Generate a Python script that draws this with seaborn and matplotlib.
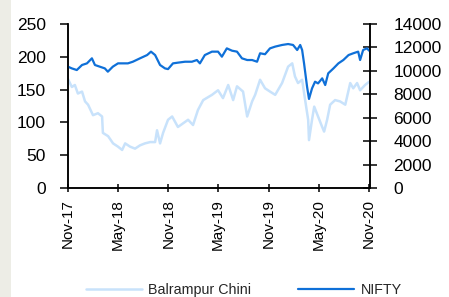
import pandas as pd
import matplotlib
matplotlib.use("Agg")
import matplotlib.pyplot as plt
import matplotlib.dates as mdates
from matplotlib import font_manager
import seaborn as sns

# Balrampur Chini share price (left axis)
balrampur_dates = [
    "2017-11-01", "2017-11-15", "2017-11-26", "2017-12-07", "2017-12-22",
    "2018-01-02", "2018-01-13", "2018-01-31", "2018-02-18", "2018-03-05",
    "2018-03-08", "2018-03-27", "2018-04-14", "2018-05-02", "2018-05-17",
    "2018-05-28", "2018-06-15", "2018-07-03", "2018-07-21", "2018-08-08",
    "2018-08-27", "2018-09-14", "2018-09-21", "2018-10-02", "2018-10-13",
    "2018-10-31", "2018-11-15", "2018-12-06", "2019-01-12", "2019-01-30",
    "2019-02-17", "2019-03-08", "2019-04-09", "2019-05-01", "2019-05-19",
    "2019-06-07", "2019-06-25", "2019-07-09", "2019-07-31", "2019-08-15",
    "2019-09-02", "2019-09-13", "2019-10-01", "2019-10-19", "2019-11-06",
    "2019-11-25", "2019-12-20", "2020-01-11", "2020-01-26", "2020-02-05",
    "2020-02-16", "2020-03-02", "2020-03-13", "2020-03-24", "2020-03-27",
    "2020-04-07", "2020-04-15", "2020-04-29", "2020-05-14", "2020-05-21",
    "2020-06-01", "2020-06-12", "2020-06-30", "2020-07-18", "2020-08-06",
    "2020-08-24", "2020-09-04", "2020-09-18", "2020-09-29", "2020-10-17",
    "2020-11-01",
]
balrampur_values = [
    166, 154, 157, 144, 147,
    132, 127, 111, 114, 109,
    84, 79, 68, 63, 58,
    68, 63, 60, 65, 68,
    70, 70, 88, 68, 84,
    104, 109, 93, 104, 96,
    119, 134, 142, 149, 137,
    157, 134, 155, 147, 109,
    132, 142, 165, 152, 147,
    142, 160, 185, 190, 170,
    160, 165, 134, 104, 73,
    104, 124, 109, 93, 86,
    104, 127, 134, 132, 127,
    160, 152, 160, 149, 157,
    162,
]

# NIFTY index (right axis)
nifty_dates = [
    "2017-11-01", "2017-11-15", "2017-12-03", "2017-12-22", "2018-01-09",
    "2018-01-27", "2018-02-07", "2018-02-25", "2018-03-15", "2018-03-26",
    "2018-04-13", "2018-05-02", "2018-05-20", "2018-06-07", "2018-06-25",
    "2018-07-21", "2018-08-16", "2018-08-30", "2018-09-14", "2018-10-02",
    "2018-10-20", "2018-10-31", "2018-11-18", "2018-12-06", "2019-01-01",
    "2019-01-26", "2019-02-13", "2019-02-24", "2019-03-14", "2019-04-09",
    "2019-05-01", "2019-05-15", "2019-06-02", "2019-06-21", "2019-07-09",
    "2019-07-27", "2019-08-15", "2019-09-02", "2019-09-20", "2019-10-01",
    "2019-10-19", "2019-11-06", "2019-11-25", "2019-12-20", "2020-01-11",
    "2020-01-29", "2020-02-13", "2020-02-24", "2020-03-02", "2020-03-09",
    "2020-03-20", "2020-03-27", "2020-04-07", "2020-04-18", "2020-04-29",
    "2020-05-14", "2020-05-25", "2020-06-05", "2020-06-24", "2020-07-12",
    "2020-07-30", "2020-08-18", "2020-09-04", "2020-09-22", "2020-09-29",
    "2020-10-10", "2020-10-24", "2020-11-01",
]
nifty_values = [
    10355, 10210, 10070, 10500, 10640,
    11070, 10500, 10355, 10210, 9930,
    10355, 10640, 10640, 10640, 10780,
    11070, 11350, 11640, 11350, 10500,
    10210, 10150, 10640, 10700, 10780,
    10780, 10925, 10640, 11350, 11640,
    11640, 11210, 11920, 11720, 11640,
    11070, 10925, 10925, 10780, 11500,
    11420, 11920, 12070, 12210, 12290,
    12210, 11780, 12210, 11780, 10640,
    8640, 7600, 8500, 9075, 8930,
    9360, 8790, 9790, 10210, 10640,
    10925, 11350, 11500, 11640, 10925,
    11780, 11920, 11720,
]

bal = pd.DataFrame({"date": pd.to_datetime(balrampur_dates), "value": balrampur_values})
nif = pd.DataFrame({"date": pd.to_datetime(nifty_dates), "value": nifty_values})

sns.set_style("white")
plt.rcParams["font.family"] = ["Liberation Sans", "DejaVu Sans"]

# condensed face for the rotated date labels, if the system has one
installed = {f.name for f in font_manager.fontManager.ttflist}
narrow = None
for name in ("Liberation Sans Narrow", "DejaVu Sans Condensed"):
    if name in installed:
        narrow = name
        break

light_blue = "#c8e2fb"
dark_blue = "#0f70d8"

fig = plt.figure(figsize=(4.49, 2.97), dpi=100)
fig.patches.append(plt.Rectangle((0, 0), 11 / 449, 1, transform=fig.transFigure,
                                 facecolor="#ededE6", edgecolor="none", zorder=0))
ax = fig.add_axes([68 / 449, 1 - 188 / 297, 302 / 449, 164 / 297])
ax2 = ax.twinx()

sns.lineplot(data=bal, x="date", y="value", ax=ax, color=light_blue, linewidth=1.8,
             label="Balrampur Chini", legend=False)
sns.lineplot(data=nif, x="date", y="value", ax=ax2, color=dark_blue, linewidth=1.6,
             label="NIFTY", legend=False)

ax.set_xlim(pd.Timestamp("2017-11-01"), pd.Timestamp("2020-11-04"))
ax.set_ylim(0, 250)
ax2.set_ylim(0, 14000)
ax.set_yticks(range(0, 251, 50))
ax2.set_yticks(range(0, 14001, 2000))

xticks = pd.date_range("2017-11-01", "2020-11-01", freq="6MS")
ax.set_xticks(xticks)
ax.xaxis.set_major_formatter(mdates.DateFormatter("%b-%y"))

for a in (ax, ax2):
    a.set_xlabel("")
    a.set_ylabel("")
    a.spines["top"].set_visible(False)
    for s in ("left", "right", "bottom"):
        a.spines[s].set_color("black")
        a.spines[s].set_linewidth(1.1)

ax.tick_params(axis="y", direction="out", length=6, width=1.1, pad=10,
               labelsize=12.5, colors="black")
ax2.tick_params(axis="y", direction="inout", length=10, width=1.1, pad=12,
                labelsize=12.5, colors="black")
ax.tick_params(axis="x", direction="inout", length=6, width=1.1, pad=5,
               labelsize=13.5 if narrow else 11, colors="black", rotation=90, bottom=True)
if narrow:
    for lbl in ax.get_xticklabels():
        lbl.set_family([narrow, "Liberation Sans", "DejaVu Sans"])

handles = ax.get_lines()[:1] + ax2.get_lines()[:1]
fig.legend(handles, ["Balrampur Chini", "NIFTY"], loc="center left",
           bbox_to_anchor=(86 / 449, 0.022), ncol=2, frameon=False, fontsize=10.3,
           handlelength=3.9, handletextpad=0.45, columnspacing=3.3,
           borderpad=0, borderaxespad=0)

fig.savefig("out.png", dpi=100)
